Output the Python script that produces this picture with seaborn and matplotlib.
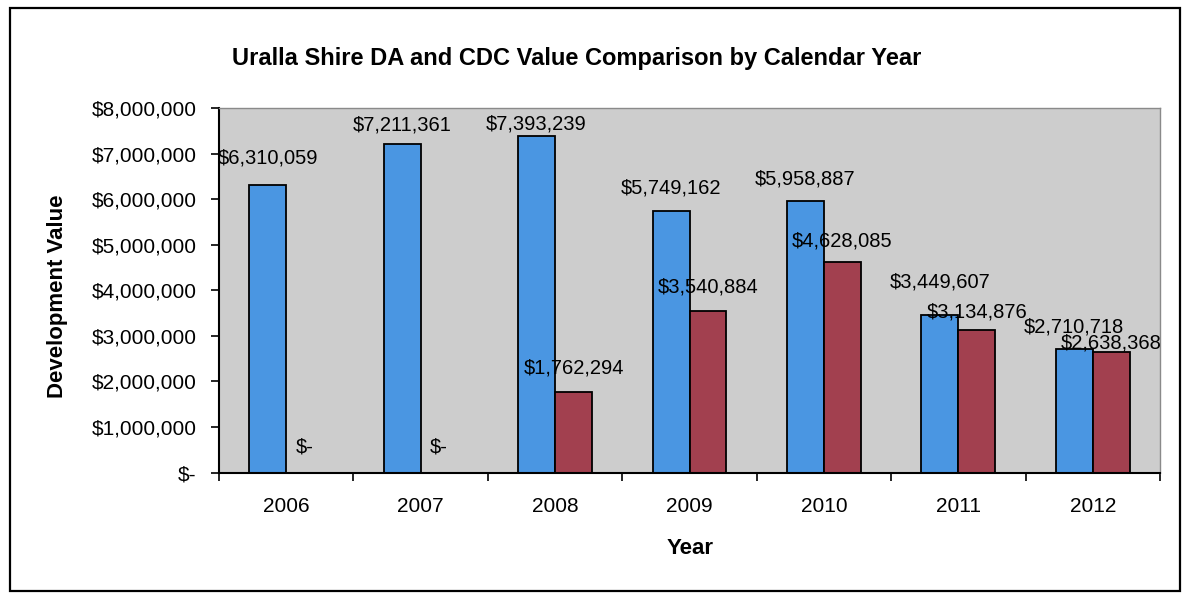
import numpy as np
import pandas as pd
import matplotlib
matplotlib.use("Agg")
import matplotlib.pyplot as plt
from matplotlib.ticker import FuncFormatter, FixedLocator
from matplotlib.patches import Rectangle
import seaborn as sns

# ---- data ----
years = ["2006", "2007", "2008", "2009", "2010", "2011", "2012"]
da_values = [6310059, 7211361, 7393239, 5749162, 5958887, 3449607, 2710718]
cdc_values = [0, 0, 1762294, 3540884, 4628085, 3134876, 2638368]
series_names = ["DA", "CDC"]

# label vertical offsets above bar tops (pixels), layout only
da_label_dy = [27, 19, 12, 23, 22, 33, 22]
cdc_label_dy = [25, 25, 24, 24, 21, 18, 9]

df = pd.DataFrame({
    "Year": years * 2,
    "Value": da_values + cdc_values,
    "Series": [series_names[0]] * len(years) + [series_names[1]] * len(years),
})

sns.set_theme(style="white")
plt.rcParams["font.family"] = ["Liberation Sans", "DejaVu Sans"]
plt.rcParams["text.color"] = "black"
plt.rcParams["xtick.color"] = "black"
plt.rcParams["ytick.color"] = "black"
plt.rcParams["axes.labelcolor"] = "black"

W, H, DPI = 1187, 596, 100
fig = plt.figure(figsize=(W / DPI, H / DPI), dpi=DPI)
fig.patch.set_facecolor("white")

left_px, right_px, top_px, bot_px = 219, 1160, 108, 472.5
ax = fig.add_axes([left_px / W, 1 - bot_px / H, (right_px - left_px) / W, (bot_px - top_px) / H])
ax.set_facecolor("#cdcdcd")

blue = "#4a96e2"
red = "#a2404f"
sns.barplot(data=df, x="Year", y="Value", hue="Series", hue_order=series_names,
            order=years, palette=[blue, red], width=0.55, edgecolor="black",
            linewidth=1.3, saturation=1, legend=False, ax=ax)

ax.set_xlim(-0.5, len(years) - 0.5)
ax.set_ylim(0, 8000000)


def money(v, pos=None):
    return "$-" if v == 0 else "${:,.0f}".format(v)


ax.yaxis.set_major_locator(FixedLocator(np.arange(0, 8000001, 1000000)))
ax.yaxis.set_major_formatter(FuncFormatter(money))
ax.tick_params(axis="y", which="major", direction="out", length=6, width=1.2,
               color="black", labelcolor="black", labelsize=15, pad=10, left=True)

# category boundary ticks (major, no labels), labels at centres (minor)
ax.xaxis.set_major_locator(FixedLocator(np.arange(-0.5, len(years), 1.0)))
ax.xaxis.set_major_formatter(FuncFormatter(lambda v, p: ""))
ax.set_xticks(np.arange(0, len(years)), labels=years, minor=True)
ax.tick_params(axis="x", which="major", direction="out", length=6, width=1.2,
               color="black", bottom=True)
ax.tick_params(axis="x", which="minor", length=0, labelsize=15, pad=18, labelcolor="black")

for s in ["left", "bottom"]:
    ax.spines[s].set_color("black")
    ax.spines[s].set_linewidth(1.5)
for s in ["top", "right"]:
    ax.spines[s].set_color("#8a8a8a")
    ax.spines[s].set_linewidth(1.0)
    ax.spines[s].set_linestyle((0, (4, 1)))

ax.set_xlabel("")
ax.set_ylabel("")

# data labels
pt = 72.0 / DPI
for container, vals, dys in zip(ax.containers, [da_values, cdc_values], [da_label_dy, cdc_label_dy]):
    for bar, v, dy in zip(container, vals, dys):
        cx = bar.get_x() + bar.get_width() / 2
        ax.annotate(money(v), xy=(cx, v), xytext=(0, dy * pt), textcoords="offset points",
                    ha="center", va="center", fontsize=14.5, color="black",
                    annotation_clip=False, zorder=5)

bold_family = ["Liberation Sans Narrow", "Liberation Sans", "DejaVu Sans"]
fig.text(577 / W, 1 - 58 / H, "Uralla Shire DA and CDC Value Comparison by Calendar Year",
         ha="center", va="center", fontsize=17, fontweight="bold", family=bold_family, color="black")
fig.text(57 / W, 1 - 296 / H, "Development Value", rotation=90, ha="center", va="center",
         fontsize=16, fontweight="bold", family=bold_family, color="black")
fig.text(690 / W, 1 - 548 / H, "Year", ha="center", va="center",
         fontsize=16, fontweight="bold", family=bold_family, color="black")

# outer chart border
fig.patches.append(Rectangle((10 / W, 1 - 591 / H), 1170 / W, 583 / H, transform=fig.transFigure,
                             fill=False, edgecolor="black", linewidth=1.6))

fig.savefig("out.png", dpi=DPI, facecolor="white")
